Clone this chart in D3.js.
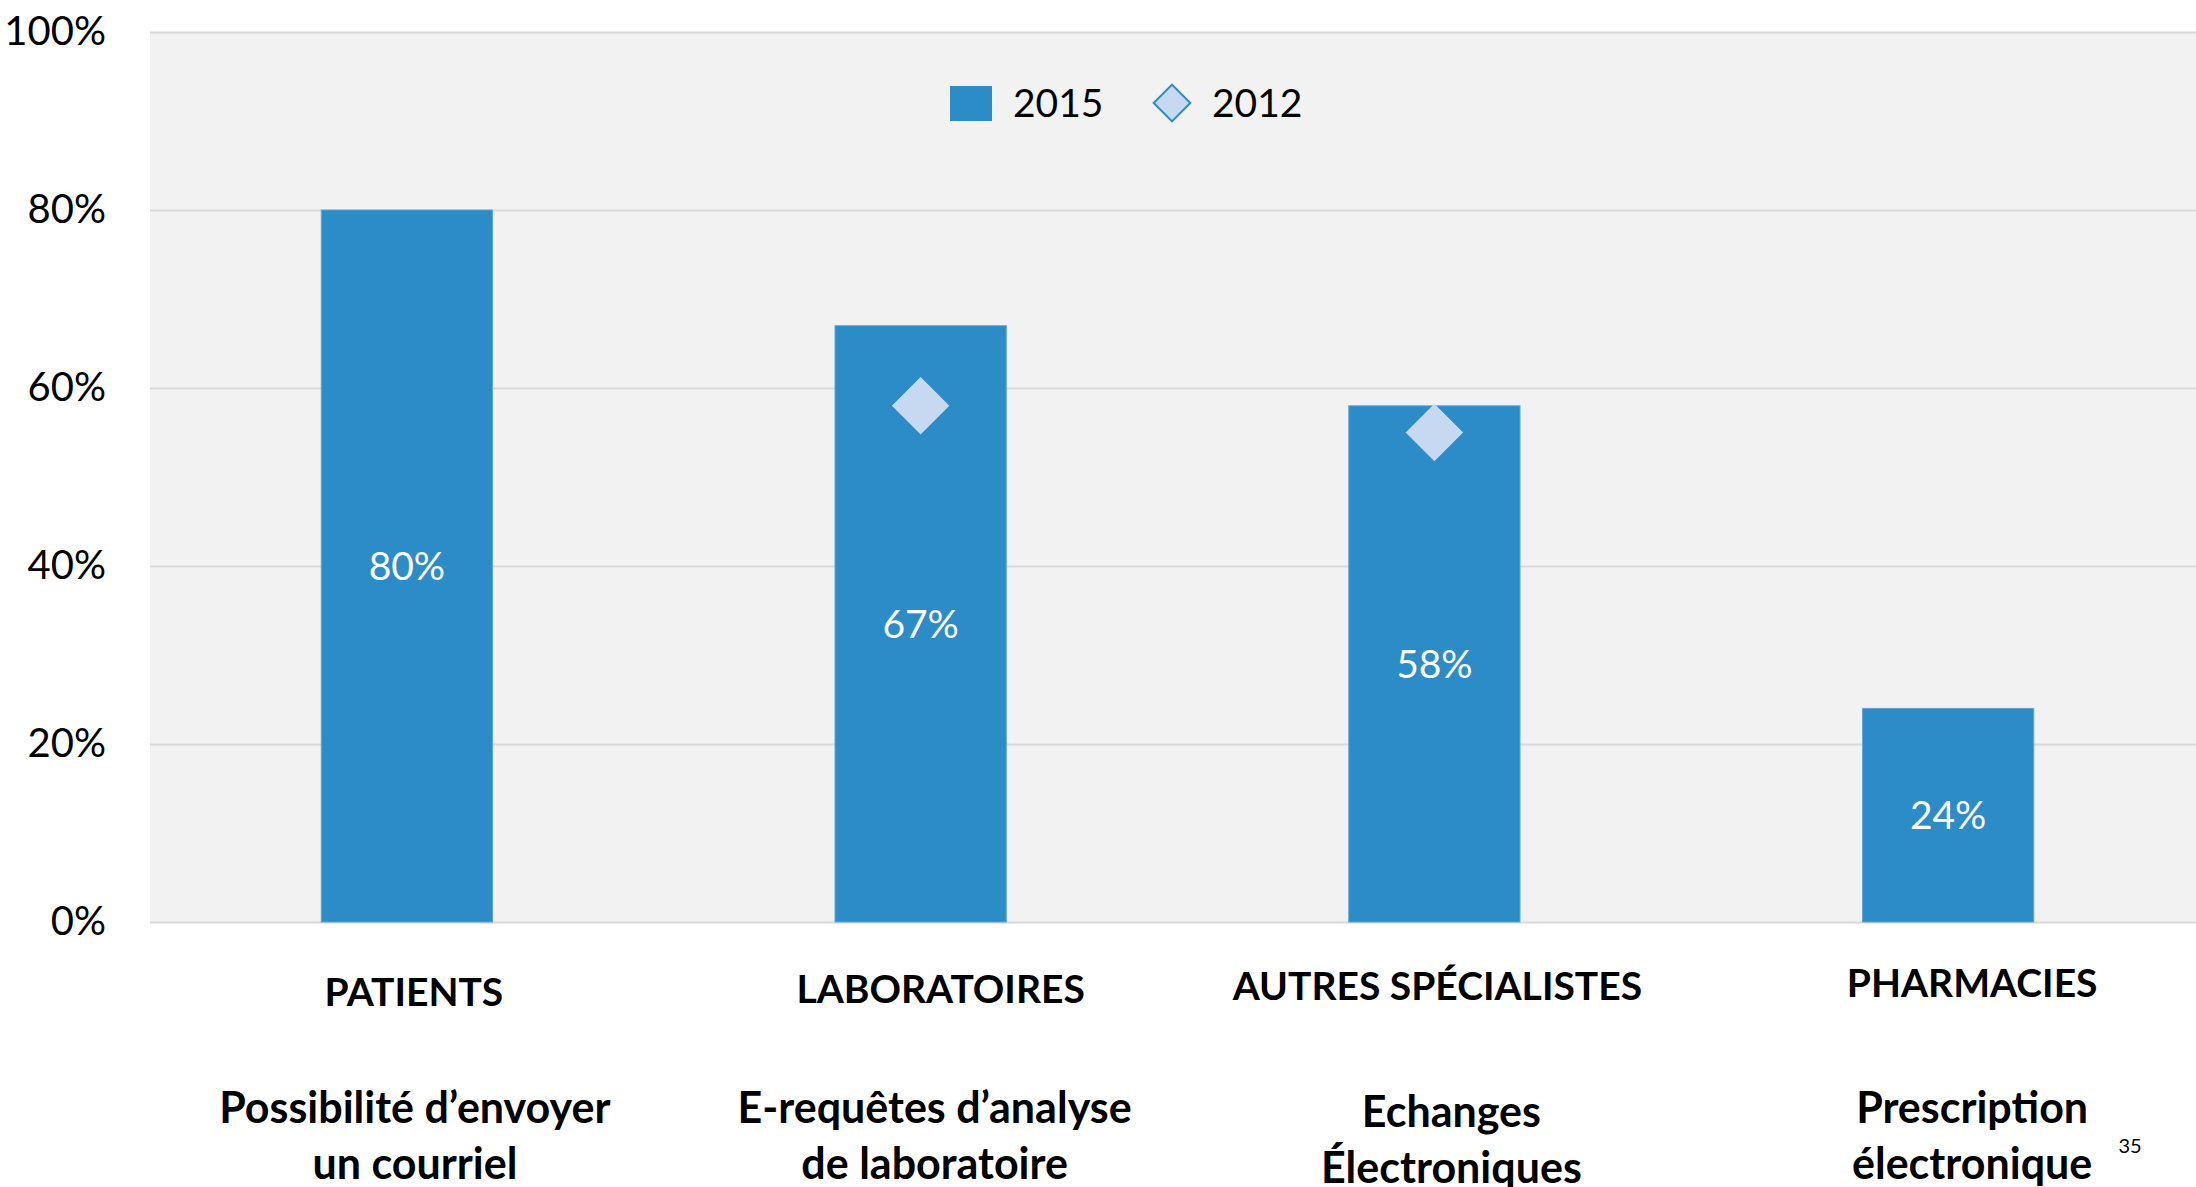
<!DOCTYPE html>
<html lang="fr">

<head>
    <meta charset="UTF-8">
    <title>Chart</title>
    <script src="https://unpkg.com/d3@7.8.5/dist/d3.min.js"></script>
    <style>
        * {
            margin: 0;
            padding: 0;
            box-sizing: border-box;
        }

        body {
            background: #fff;
            overflow: hidden;
        }

        svg {
            display: block;
            font-family: Lato, sans-serif;
        }
    </style>
</head>

<body>
    <svg class="cc"></svg>
    <script>
        // 数据
        const categories = ['PATIENTS', 'LABORATOIRES', 'AUTRES SPÉCIALISTES', 'PHARMACIES']
        const subLabels = [
            ['Possibilité d’envoyer', 'un courriel'],
            ['E-requêtes d’analyse', 'de laboratoire'],
            ['Echanges', 'Électroniques'],
            ['Prescription', 'électronique']
        ]
        const values2015 = [0.80, 0.67, 0.58, 0.24]
        const values2012 = [null, 0.58, 0.55, null]
        const yTicks = [0, 0.2, 0.4, 0.6, 0.8, 1]
        const seriesNames = ['2015', '2012']
        const pageNumber = '35'

        const W = 2196, H = 1187
        const plot = { left: 150, right: 2205, top: 32, bottom: 922 }
        // 标签的微调(幻灯片里文本框位置不完全居中)
        const labelNudge = [7, 20, 3, 24]
        const subNudge = [1, -6, 14, 0]

        const barColor = '#2B8CC8'
        const diamondColor = '#C6D9F0'

        const svg = d3.select('svg').attr('width', W).attr('height', H)

        const x = d3.scaleBand()
            .domain(categories)
            .range([plot.left, plot.right])
            .paddingInner(2 / 3)
            .paddingOuter(1 / 3)

        const y = d3.scaleLinear()
            .domain([0, 1])
            .range([plot.bottom, plot.top])

        // 背景
        svg.append('rect')
            .attr('x', plot.left)
            .attr('y', plot.top)
            .attr('width', plot.right - plot.left)
            .attr('height', plot.bottom - plot.top)
            .attr('fill', '#F2F2F2')

        // y轴 + 网格线
        const yAxis = svg.append('g')
            .attr('transform', `translate(${plot.left},0)`)
            .call(d3.axisLeft(y)
                .tickValues(yTicks)
                .tickFormat(d3.format('.0%'))
                .tickSize(-(plot.right - plot.left))
                .tickPadding(44))
        yAxis.select('.domain').remove()
        yAxis.selectAll('line').attr('stroke', '#D9D9D9').attr('stroke-width', 2)
        yAxis.selectAll('text')
            .attr('fill', '#000')
            .attr('font-size', 40)
            .attr('font-family', 'Lato, sans-serif')

        // 柱子
        const bars = svg.append('g').selectAll('g')
            .data(categories.map((c, i) => ({ c, v: values2015[i], old: values2012[i] })))
            .enter().append('g')

        bars.append('rect')
            .attr('x', d => x(d.c))
            .attr('y', d => y(d.v))
            .attr('width', x.bandwidth())
            .attr('height', d => y(0) - y(d.v))
            .attr('fill', barColor)
            .attr('stroke', '#5FA6D6')
            .attr('stroke-width', 1)

        bars.append('text')
            .attr('x', d => x(d.c) + x.bandwidth() / 2)
            .attr('y', d => (y(d.v) + y(0)) / 2)
            .attr('dy', '0.36em')
            .attr('text-anchor', 'middle')
            .attr('fill', '#fff')
            .attr('font-size', 39)
            .text(d => d3.format('.0%')(d.v))

        // 2012 菱形
        const diamond = d3.symbol(d3.symbolSquare)
        bars.filter(d => d.old != null).append('path')
            .attr('d', diamond.size(1650)())
            .attr('transform', d => `translate(${x(d.c) + x.bandwidth() / 2},${y(d.old)}) rotate(45)`)
            .attr('fill', diamondColor)

        // x轴标签
        const labels = svg.append('g').selectAll('g')
            .data(categories)
            .enter().append('g')
            .attr('transform', (d, i) => `translate(${x(d) + x.bandwidth() / 2},0)`)
            .attr('text-anchor', 'middle')
            .attr('font-weight', 700)

        labels.append('text')
            .attr('x', (d, i) => labelNudge[i])
            .attr('y', (d, i) => 1006 - i * 3)
            .attr('font-size', 39)
            .text(d => d)

        labels.each(function (d, i) {
            const g = d3.select(this)
            subLabels[i].forEach((line, j) => {
                g.append('text')
                    .attr('x', labelNudge[i] + subNudge[i])
                    .attr('y', (i === 2 ? 1127 : 1123) + j * 56)
                    .attr('font-size', 43)
                    .text(line)
            })
        })

        // 图例
        const legend = svg.append('g').attr('font-size', 39)
        legend.append('rect')
            .attr('x', 950).attr('y', 86)
            .attr('width', 42).attr('height', 35)
            .attr('fill', barColor)
        legend.append('text')
            .attr('x', 1013).attr('y', 117)
            .text(seriesNames[0])
        legend.append('path')
            .attr('d', diamond.size(670)())
            .attr('transform', 'translate(1172,103) rotate(45)')
            .attr('fill', diamondColor)
            .attr('stroke', barColor)
            .attr('stroke-width', 2)
        legend.append('text')
            .attr('x', 1212).attr('y', 117)
            .text(seriesNames[1])

        // 页码
        svg.append('text')
            .attr('x', 2130).attr('y', 1153)
            .attr('text-anchor', 'middle')
            .attr('font-size', 20)
            .text(pageNumber)
    </script>
</body>

</html>
